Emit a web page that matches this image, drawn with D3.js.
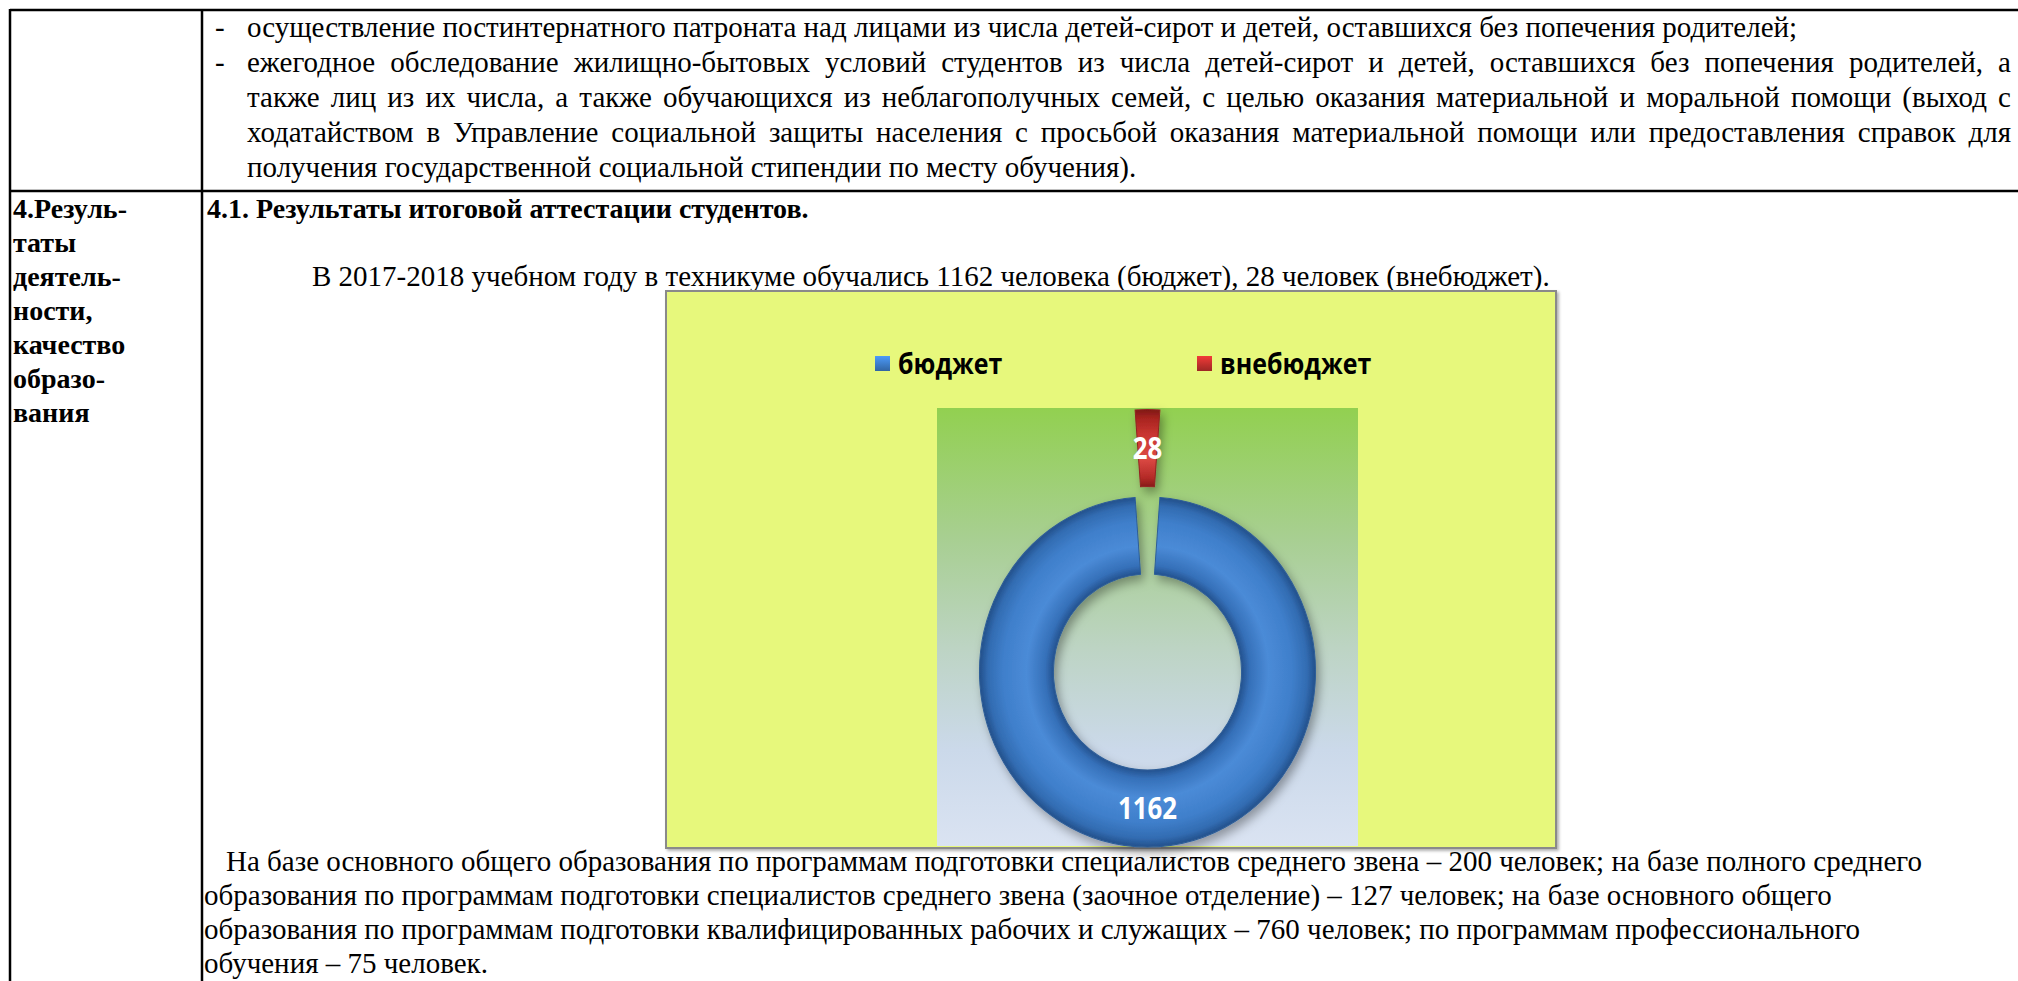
<!DOCTYPE html>
<html>
<head>
<meta charset="utf-8">
<script src="https://cdn.jsdelivr.net/npm/d3@7"></script>
<style>
  html, body { margin: 0; padding: 0; background: #fff; }
  svg { display: block; }
</style>
</head>
<body>
<svg id="page" width="2018" height="981"></svg>
<script>
// chart data
const categories = ["бюджет", "внебюджет"];
const values = [1162, 28];
const sliceColors = ["#3d7dca", "#c3302d"];

// document text
const topLines = [
  "осуществление постинтернатного патроната над лицами из числа детей-сирот и детей, оставшихся без попечения родителей;",
  "ежегодное обследование жилищно-бытовых условий студентов из числа детей-сирот и детей, оставшихся без попечения родителей, а",
  "также лиц из их числа, а также обучающихся из неблагополучных семей, с целью оказания материальной и моральной помощи (выход с",
  "ходатайством в Управление социальной защиты населения с просьбой оказания материальной помощи или предоставления справок для",
  "получения государственной социальной стипендии по месту обучения)."
];
const sectionLines = ["4.Резуль-", "таты", "деятель-", "ности,", "качество", "образо-", "вания"];
const heading = "4.1. Результаты итоговой аттестации студентов.";
const introLine = "В 2017-2018 учебном году в техникуме обучались 1162 человека (бюджет), 28 человек (внебюджет).";
const bottomLines = [
  "На базе основного общего образования по программам подготовки специалистов среднего звена – 200 человек; на базе полного среднего",
  "образования по программам подготовки специалистов среднего звена (заочное отделение) – 127 человек; на базе основного общего",
  "образования по программам подготовки квалифицированных рабочих и служащих – 760 человек; по программам профессионального",
  "обучения – 75 человек."
];

const W = 2018, H = 981;
const serif = "'Liberation Serif', 'Times New Roman', serif";
const sans = "'Open Sans', 'Noto Sans', sans-serif";
const bodySize = 29;
const narrow = 0.86; // chart font is a narrow face (Calibri-like)

const svg = d3.select("#page");
const defs = svg.append("defs");

//table grid
const tableLeft = 10, colX = 202, tableTop = 10, rowY = 191, rightEdge = 2011;
const grid = svg.append("g").attr("stroke", "#000").attr("stroke-width", 2.5);
grid.append("line").attr("x1", tableLeft).attr("x2", W).attr("y1", tableTop).attr("y2", tableTop);
grid.append("line").attr("x1", tableLeft).attr("x2", W).attr("y1", rowY).attr("y2", rowY);
grid.append("line").attr("x1", tableLeft).attr("x2", tableLeft).attr("y1", tableTop - 1).attr("y2", H);
grid.append("line").attr("x1", colX).attr("x2", colX).attr("y1", tableTop - 1).attr("y2", H);

let addLine = function(g, s, x, y, o = {}) {
  const t = g.append("text")
    .attr("x", x)
    .attr("y", y)
    .attr("font-family", o.family || serif)
    .attr("font-size", o.size || bodySize)
    .attr("font-weight", o.bold ? "bold" : null)
    .attr("fill", o.fill || "#000")
    .text(s);
  if (o.justify) {
    const w = t.node().getComputedTextLength();
    const gaps = s.split(" ").length - 1;
    t.attr("word-spacing", (o.justify - x - w) / gaps);
  }
  return t;
}

// squeeze a sans text to look like a narrow face
let condense = function(sel) {
  sel.each(function() {
    const w = this.getComputedTextLength();
    d3.select(this).attr("textLength", w * narrow).attr("lengthAdjust", "spacingAndGlyphs");
  });
}

const text_g = svg.append("g");

//first row
const lineStep = 35;
topLines.forEach((s, i) => {
  const y = 37 + i * lineStep;
  if (i < 2) addLine(text_g, "-", 215, y);
  addLine(text_g, s, 247, y, {justify: (i > 0 && i < 4) ? rightEdge : null});
});

//second row
sectionLines.forEach((s, i) => addLine(text_g, s, 13, 218 + i * 34, {bold: true, size: 28}));
addLine(text_g, heading, 207, 218, {bold: true, size: 28});
addLine(text_g, introLine, 312, 286);

bottomLines.forEach((s, i) => addLine(text_g, s, i === 0 ? 226 : 204, 871 + i * 34));

//chart
const box = {x: 666, y: 291, w: 890, h: 557};
const plot = {x: 937, y: 408, w: 421, h: 438};

const shadow = defs.append("filter").attr("id", "shadow")
  .attr("x", "-20%").attr("y", "-20%").attr("width", "140%").attr("height", "140%");
shadow.append("feDropShadow").attr("dx", 2).attr("dy", 3).attr("stdDeviation", 3)
  .attr("flood-color", "#000").attr("flood-opacity", 0.35);

const boxShadow = defs.append("filter").attr("id", "boxShadow");
boxShadow.append("feDropShadow").attr("dx", 2).attr("dy", 2).attr("stdDeviation", 1.5)
  .attr("flood-color", "#000").attr("flood-opacity", 0.3);

const plotGrad = defs.append("linearGradient").attr("id", "plotGrad")
  .attr("x1", 0).attr("y1", 0).attr("x2", 0).attr("y2", 1);
[["0", "#92d050"], ["0.3", "#a8cf92"], ["0.55", "#bdd4c4"], ["0.78", "#cbd9ea"], ["1", "#dae3f2"]]
  .forEach(s => plotGrad.append("stop").attr("offset", s[0]).attr("stop-color", s[1]));

const chart_g = svg.append("g");
chart_g.append("rect")
  .attr("x", box.x).attr("y", box.y).attr("width", box.w).attr("height", box.h)
  .attr("fill", "#e7f87c")
  .attr("stroke", "#8a8a8a")
  .attr("stroke-width", 2)
  .attr("filter", "url(#boxShadow)");

chart_g.append("rect")
  .attr("x", plot.x).attr("y", plot.y).attr("width", plot.w).attr("height", plot.h)
  .attr("fill", "url(#plotGrad)");

const color = d3.scaleOrdinal(categories, sliceColors);

//bevel gradients for ring
const bevel = {
  "бюджет": ["#24528f", "#3570b9", "#4b8bd7", "#3f7fcb", "#326cb2", "#23508b"],
  "внебюджет": ["#871b19", "#b42a27", "#dc4a44", "#c83531", "#a8241f", "#7e1816"]
};
const rInner = 56, rOuter = 100;
categories.forEach((c, i) => {
  const rg = defs.append("radialGradient").attr("id", "ring" + i)
    .attr("gradientUnits", "userSpaceOnUse")
    .attr("cx", 0).attr("cy", 0).attr("r", rOuter);
  [0.56, 0.61, 0.72, 0.86, 0.95, 1].forEach((o, k) =>
    rg.append("stop").attr("offset", o).attr("stop-color", bevel[c][k]));
});

const total = d3.sum(values);
const half = Math.PI * values[1] / total;
const pie = d3.pie().sort(null).value(d => d)
  .startAngle(half).endAngle(half + 2 * Math.PI);
const arcs = pie(values);
const arc = d3.arc().innerRadius(rInner).outerRadius(rOuter);
const explode = [0, 50];

const center = {x: plot.x + plot.w / 2, y: 672};
const sx = 1.68, sy = 1.75;

const ring_g = chart_g.append("g")
  .attr("filter", "url(#shadow)")
  .attr("transform", `translate(${center.x},${center.y}) scale(${sx},${sy})`);

const offset = (d, i) => {
  const a = (d.startAngle + d.endAngle) / 2;
  return [Math.sin(a) * explode[i], -Math.cos(a) * explode[i]];
};

ring_g.selectAll("path")
  .data(arcs)
  .enter().append("path")
  .attr("d", arc)
  .attr("transform", (d, i) => `translate(${offset(d, i)[0]},${offset(d, i)[1]})`)
  .attr("fill", (d, i) => "url(#ring" + i + ")")
  .attr("stroke", (d, i) => d3.color(color(categories[i])).darker(0.8))
  .attr("stroke-width", 0.6);

chart_g.selectAll(".label")
  .data(arcs)
  .enter().append("text")
  .attr("class", "label")
  .attr("x", (d, i) => center.x + (arc.centroid(d)[0] + offset(d, i)[0]) * sx)
  .attr("y", (d, i) => center.y + (arc.centroid(d)[1] + offset(d, i)[1]) * sy)
  .attr("dy", "0.36em")
  .attr("text-anchor", "middle")
  .attr("font-family", sans)
  .attr("font-weight", "bold")
  .attr("font-size", 30)
  .attr("fill", "#fff")
  .text(d => d.data)
  .call(condense);

//legend
const legendX = [875, 1197];
const legend = chart_g.selectAll(".legend")
  .data(categories)
  .enter().append("g")
  .attr("class", "legend")
  .attr("transform", (d, i) => `translate(${legendX[i]},364)`);

categories.forEach((c, i) => {
  const lg = defs.append("linearGradient").attr("id", "mark" + i)
    .attr("x1", 0).attr("y1", 0).attr("x2", 0).attr("y2", 1);
  lg.append("stop").attr("offset", 0).attr("stop-color", d3.color(color(c)).brighter(0.6));
  lg.append("stop").attr("offset", 1).attr("stop-color", d3.color(color(c)).darker(0.6));
});

legend.append("rect")
  .attr("x", 0).attr("y", -8).attr("width", 15).attr("height", 15)
  .attr("fill", (d, i) => "url(#mark" + i + ")");

legend.append("text")
  .attr("x", 23)
  .attr("dy", "0.36em")
  .attr("font-family", sans)
  .attr("font-weight", "bold")
  .attr("font-size", 29)
  .attr("fill", "#000")
  .text(d => d)
  .call(condense);
</script>
</body>
</html>
